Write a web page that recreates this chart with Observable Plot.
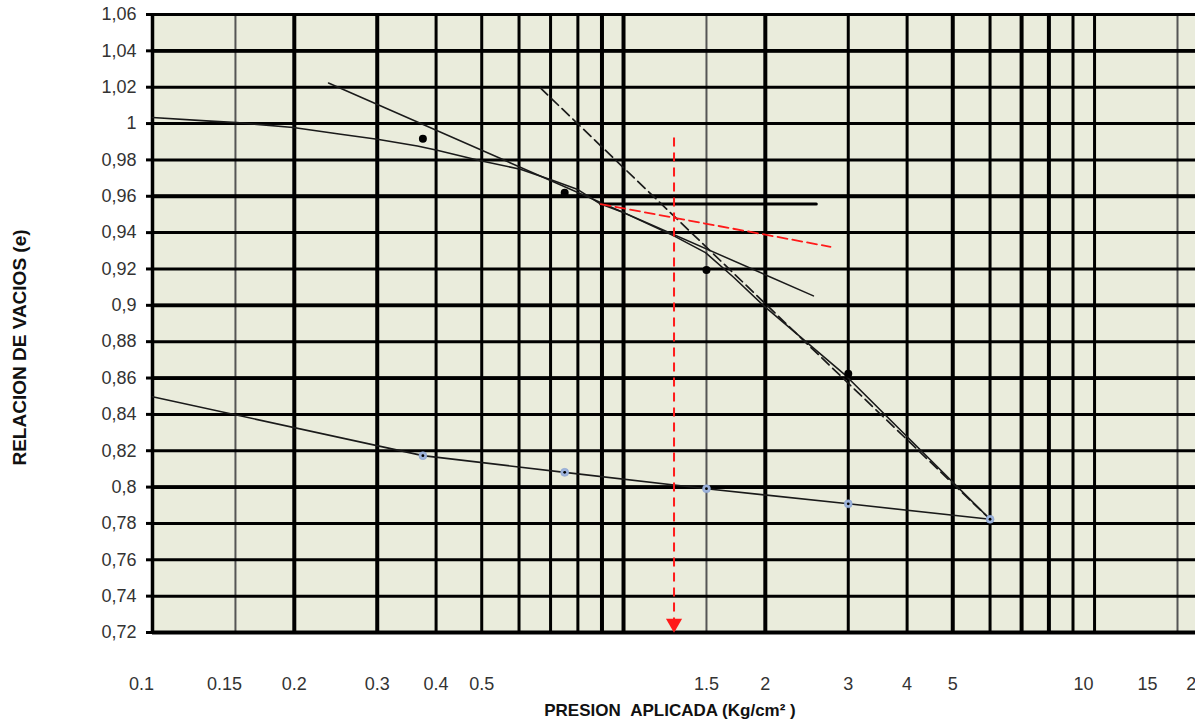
<!DOCTYPE html>
<html><head><meta charset="utf-8">
<script src="https://cdn.jsdelivr.net/npm/d3@7"></script>
<script src="https://cdn.jsdelivr.net/npm/@observablehq/plot@0.6"></script>
<style>html,body{margin:0;padding:0;background:#fff;overflow:hidden}</style>
</head><body><div id="chart"></div>
<script>
// ---- data ----
// loading (consolidation test) points
const loadP = [0.375, 0.75, 1.5, 3];
const loadE = [0.9916, 0.9619, 0.9195, 0.8624];
// unloading points
const unloadP = [6, 3, 1.5, 0.75, 0.375];
const unloadE = [0.7823, 0.7908, 0.7991, 0.8081, 0.8173];
// unloading line (with extension to 0.1)
const unloadLineP = [0.1, 0.375, 0.75, 1.5, 3, 6];
const unloadLineE = [0.8497, 0.8173, 0.8081, 0.7991, 0.7908, 0.7823];
// traced compression curve
const curveP = [0.1, 0.13, 0.151, 0.199, 0.251, 0.3, 0.365, 0.402, 0.497, 0.604, 0.711, 0.797, 0.894, 1.0, 1.279, 1.493, 1.715, 1.986, 2.94, 6.0];
const curveE = [1.0033, 1.0015, 1.0005, 0.9978, 0.9941, 0.9914, 0.9877, 0.9853, 0.9795, 0.9749, 0.9685, 0.9639, 0.9557, 0.951, 0.9382, 0.929, 0.9153, 0.8997, 0.8622, 0.7823];
// Casagrande construction
const tangentP = [0.2364, 2.53];
const tangentE = [1.0223, 0.9052];
const virginP = [0.666, 6];
const virginE = [1.0196, 0.7823];
const horizP = [0.894, 2.566];
const horizE = [0.9557, 0.9557];
const bisectP = [0.894, 2.75];
const bisectE = [0.9557, 0.9322];
const preconP = [1.28];
const preconE = [0.9921, 0.72];
// axes
const yTicks = [0.72, 0.74, 0.76, 0.78, 0.8, 0.82, 0.84, 0.86, 0.88, 0.9, 0.92, 0.94, 0.96, 0.98, 1, 1.02, 1.04, 1.06];
const yGridBold = [1.04, 0.96, 0.9, 0.86, 0.8, 0.72];
const xGridBold = [0.2, 0.3, 0.9, 1, 2, 5, 7, 8];
const xGridRegular = [0.4, 0.5, 0.6, 0.7, 0.8, 3, 4, 6, 9, 10];
const xGridLight = [0.15, 1.5, 15];
const xLabelsA = [0.2, 0.3, 0.4, 0.5, 1.5, 2, 3, 4, 5];
const xLabelsB = [0.1, 0.15, 10];
const xLabelsC = [15];
const xLabelsD = [20];

const pts = (P, E) => P.map((p, i) => ({p, e: E[i]}));
const yFmt = v => String(+v.toFixed(2)).replace(".", ",");
const xFmt = v => String(v);
const tickStyle = {tickSize: 0, tickPadding: 45, fontSize: 18, fill: "#333", label: null, tickFormat: xFmt};

const chart = Plot.plot({
  width: 1195,
  height: 725,
  marginLeft: 152,
  marginRight: 0,
  marginTop: 14,
  marginBottom: 93,
  style: {fontFamily: "'Liberation Sans', Arial, sans-serif", background: "#fff", overflow: "visible"},
  x: {type: "log", domain: [0.1, 16.38]},
  y: {domain: [0.72, 1.06]},
  marks: [
    Plot.frame({fill: "#eaecdc", stroke: null}),
    Plot.ruleX(xGridLight, {stroke: "#555", strokeWidth: 2}),
    Plot.ruleX(xGridRegular, {stroke: "#000", strokeWidth: 3}),
    Plot.ruleX(xGridBold, {stroke: "#000", strokeWidth: 4}),
    Plot.ruleX([0.1], {stroke: "#000", strokeWidth: 3.5}),
    Plot.ruleY(yTicks, {stroke: "#000", strokeWidth: 3}),
    Plot.ruleY(yGridBold, {stroke: "#000", strokeWidth: 3.8}),
    Plot.axisY(yTicks, {tickSize: 6, strokeWidth: 3, tickPadding: 10, fontSize: 18, fill: "#333", label: null, tickFormat: yFmt}),
    Plot.axisX(xLabelsA, tickStyle),
    Plot.axisX(xLabelsB, {...tickStyle, dx: -11}),
    Plot.axisX(xLabelsC, {...tickStyle, dx: -30}),
    Plot.axisX(xLabelsD, {...tickStyle, dx: -40}),
    // construction lines
    Plot.line(pts(unloadLineP, unloadLineE), {x: "p", y: "e", stroke: "#1a1a1a", strokeWidth: 1.6}),
    Plot.line(pts(tangentP, tangentE), {x: "p", y: "e", stroke: "#1a1a1a", strokeWidth: 1.5}),
    Plot.line(pts(horizP, horizE), {x: "p", y: "e", stroke: "#000", strokeWidth: 3}),
    Plot.line(pts(virginP, virginE), {x: "p", y: "e", stroke: "#1a1a1a", strokeWidth: 1.7, strokeDasharray: "10,5"}),
    Plot.line(pts(curveP, curveE), {x: "p", y: "e", stroke: "#1a1a1a", strokeWidth: 1.6}),
    Plot.line(pts(bisectP, bisectE), {x: "p", y: "e", stroke: "#ff1a1a", strokeWidth: 1.8, strokeDasharray: "10,5"}),
    Plot.ruleX(preconP, {y1: preconE[0], y2: preconE[1], stroke: "#ff1a1a", strokeWidth: 2, strokeDasharray: "9,6"}),
    Plot.dot(preconP, {x: d => d, y: () => preconE[1], symbol: "triangle", r: 6, rotate: 180, fill: "#ff1a1a", stroke: null, dy: -9}),
    // data points
    Plot.dot(pts(loadP, loadE), {x: "p", y: "e", r: 4, fill: "#000", stroke: null}),
    Plot.dot(pts(unloadP, unloadE), {x: "p", y: "e", r: 4, fill: "#9db3dc", stroke: "#8aa2cf", strokeWidth: 0.6}),
    Plot.dot(pts(unloadP, unloadE), {x: "p", y: "e", r: 1.4, fill: "#000", stroke: null}),
    // titles
    Plot.text(["RELACION DE VACIOS (e)"], {frameAnchor: "left", textAnchor: "middle", rotate: -90, dx: -133, dy: 24, fontSize: 19, fontWeight: "bold", fill: "#111", style: "letter-spacing:0.6px"}),
    Plot.text(["PRESION\u00a0\u00a0APLICADA (Kg/cm\u00b2\u00a0)"], {frameAnchor: "bottom", textAnchor: "middle", dx: -4, dy: 83, fontSize: 17, fontWeight: "bold", fill: "#111"})
  ]
});
document.getElementById("chart").appendChild(chart);
</script></body></html>
